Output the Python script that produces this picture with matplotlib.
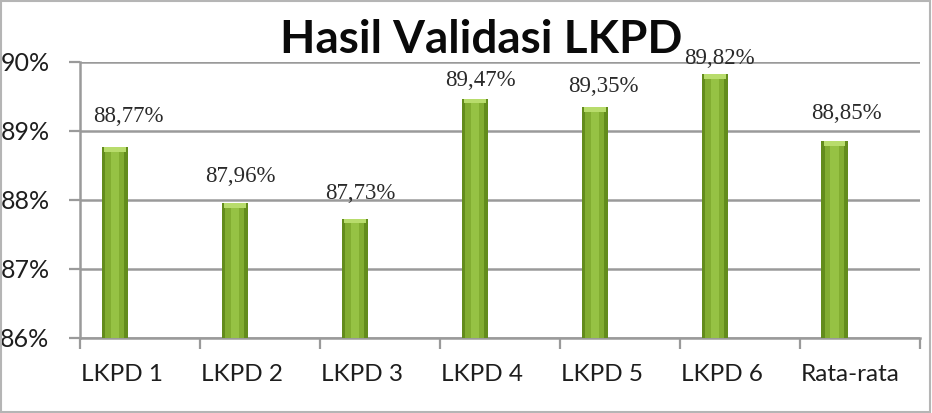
import matplotlib.pyplot as plt
from matplotlib.ticker import FuncFormatter

categories = ["LKPD 1", "LKPD 2", "LKPD 3", "LKPD 4", "LKPD 5", "LKPD 6", "Rata-rata"]
values = [88.77, 87.96, 87.73, 89.47, 89.35, 89.82, 88.85]
value_labels = ["88,77%", "87,96%", "87,73%", "89,47%", "89,35%", "89,82%", "88,85%"]

# label nudges in pixels (dx, dy above bar top), as placed in the original
label_nudge = [(14, 20), (6, 16), (6, 15), (6, 8), (9, 10), (5, 5), (12, 17)]

fig = plt.figure(figsize=(9.32, 4.13), dpi=100)
ax = fig.add_axes([0.0858, 0.1816, 0.9012, 0.6684])

n = len(categories)
xb = [i - 0.21 for i in range(n)]
heights = [v - 86 for v in values]

# bars: dark rim, mid body, light centre stripe, light bevel at top
ax.bar(xb, heights, bottom=86, width=0.22, color="#638c1c", linewidth=0, zorder=3)
ax.bar(xb, heights, bottom=86, width=0.16, color="#82ad31", linewidth=0, zorder=4)
ax.bar(xb, heights, bottom=86, width=0.07, color="#96c244", linewidth=0, zorder=5)
ax.bar(xb, [0.07] * n, bottom=[v - 0.07 for v in values], width=0.18,
       color="#b8dc6c", linewidth=0, zorder=6)

for xi, v, lab, (dx, dy) in zip(xb, values, value_labels, label_nudge):
    ax.annotate(lab, (xi, v), xytext=(dx, dy), textcoords="offset pixels",
                ha="center", va="bottom", fontsize=16.5,
                family="Liberation Serif", color="#2a2a2a", zorder=7)

ax.set_xlim(-0.5, n - 0.5)
ax.set_ylim(86, 90)
ax.set_yticks([86, 87, 88, 89, 90])
ax.yaxis.set_major_formatter(FuncFormatter(lambda v, p: f"{v:.0f}%"))

# category labels sit left-aligned just right of each boundary tick
ax.set_xticks([i - 0.49 for i in range(n)])
ax.set_xticklabels(categories, ha="left")
ax.set_xticks([i - 0.5 for i in range(n + 1)], minor=True)
ax.tick_params(axis="x", which="major", length=0, pad=19, labelsize=17.5, colors="#1e1e1e")
ax.tick_params(axis="x", which="minor", length=8, width=1.6, color="#9a9a9a")
ax.tick_params(axis="y", length=8, width=1.6, color="#9a9a9a", labelsize=18,
               labelcolor="#1e1e1e", pad=14)
for lab in ax.get_xticklabels() + ax.get_yticklabels():
    lab.set_family("Lato")

ax.grid(axis="y", color="#9a9a9a", linewidth=1.8, zorder=0)
for s in ["top", "right"]:
    ax.spines[s].set_visible(False)
for s in ["left", "bottom"]:
    ax.spines[s].set_color("#9a9a9a")
    ax.spines[s].set_linewidth(1.8)

fig.text(0.516, (413 - 53) / 413, "Hasil Validasi LKPD", ha="center", va="baseline",
         fontsize=33, fontweight="bold", family="Lato", color="#0a0a0a", zorder=10)

fig.patches.append(plt.Rectangle((0.001, 0.002), 0.997, 0.996, transform=fig.transFigure,
                                 fill=False, edgecolor="#b5b5b5", linewidth=1.5))

fig.savefig("out.png", dpi=100)
